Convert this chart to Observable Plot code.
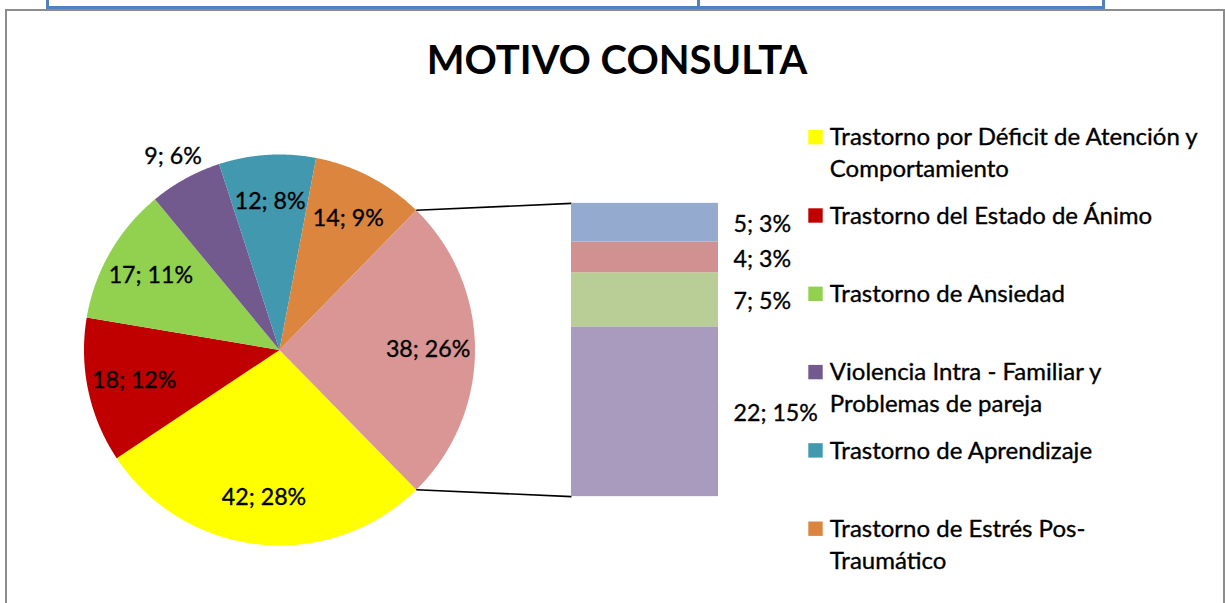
<!DOCTYPE html>
<html>
<head>
<meta charset="utf-8">
<script src="https://cdn.jsdelivr.net/npm/d3@7"></script>
<script src="https://cdn.jsdelivr.net/npm/@observablehq/plot@0.6"></script>
<style>
  html, body { margin: 0; padding: 0; background: #fff; }
  #wrap { position: relative; width: 1225px; height: 603px; overflow: hidden; font-family: Lato, "Noto Sans", sans-serif; }
  .deco { position: absolute; }
  #frame { left: 5px; top: 9px; width: 1220px; height: 700px; box-sizing: border-box; border: 2px solid #8c8c8c; border-bottom: none; }
  .blue { background: #4F81BD; }
  #title { position: relative; height: 95px; box-sizing: border-box; padding-top: 39px; padding-left: 9px; text-align: center;
           font: bold 40px/40px Lato, "Noto Sans", sans-serif; color: #000; }
  #chart svg { display: block; overflow: visible; }
</style>
</head>
<body>
<div id="wrap">
  <div class="deco" id="frame"></div>
  <div class="deco blue" style="left:46px;top:5.5px;width:1059px;height:3px"></div>
  <div class="deco blue" style="left:46px;top:0;width:3px;height:8.5px"></div>
  <div class="deco blue" style="left:697px;top:0;width:3px;height:8.5px"></div>
  <div class="deco blue" style="left:1102px;top:0;width:3px;height:8.5px"></div>
  <div id="title"></div>
  <div id="chart" style="position:relative"></div>
</div>
<script>
// ---------- data ----------
const title = "MOTIVO CONSULTA";
const categories = [
  "Trastorno por Déficit de Atención y\nComportamiento",
  "Trastorno del Estado de Ánimo",
  "Trastorno de Ansiedad",
  "Violencia Intra - Familiar y\nProblemas de pareja",
  "Trastorno de Aprendizaje",
  "Trastorno de Estrés Pos-\nTraumático"
];
const pieValues = [42, 18, 17, 9, 12, 14];
const barValues = [22, 7, 4, 5];          // "other" split, bottom to top
const pieColors = ["#FFFF00", "#C00000", "#92D050", "#725A8F", "#4198AF", "#DC853E"];
const otherColor = "#D99694";
const barColors = ["#A99BBE", "#B9CD96", "#D19190", "#94AACF"];

// ---------- derived ----------
const otherValue = d3.sum(barValues);
const total = d3.sum(pieValues) + otherValue;
const pct = v => Math.round(v / total * 100);
const otherPct = d3.sum(barValues.map(pct));

// ---------- layout ----------
const W = 1225, H = 603, TOP = 95;
const cx = 279, cy = 349.5, R = 195.5;
const barX1 = 571, barX2 = 718, barH = 0.75 * 2 * R;
const legX = 808.3, legY0 = 130, legStep = 78.3, sw = 14.4;
const FS = 23.2, LFS = 24;

document.getElementById("title").textContent = title;

const otherAngle = otherValue / total * 2 * Math.PI;
const start = Math.PI / 2 + otherAngle / 2;
const allValues = [...pieValues, otherValue];
const allColors = [...pieColors, otherColor];
const arcs = d3.pie().sort(null).startAngle(start).endAngle(start + 2 * Math.PI)(allValues);
const pt = (a, r) => [cx + r * Math.sin(a), cy - r * Math.cos(a)];

const slicePts = arcs.flatMap((a, i) => {
  const n = Math.max(2, Math.ceil((a.endAngle - a.startAngle) / 0.004));
  const pts = [{i, x: cx, y: cy}];
  for (let k = 0; k <= n; k++) {
    const [x, y] = pt(a.startAngle + (a.endAngle - a.startAngle) * k / n, R);
    pts.push({i, x, y});
  }
  return pts;
});

const pieLabels = arcs.map((a, i) => {
  const mid = (a.startAngle + a.endAngle) / 2;
  const small = (a.endAngle - a.startAngle) < 25 * Math.PI / 180;
  const [x, y] = pt(mid, small ? 1.13 * R : 0.76 * R);
  const v = allValues[i];
  const p = i < pieValues.length ? pct(v) : otherPct;
  return {x, y, text: `${v}; ${p}%`};
});

const otherArc = arcs[arcs.length - 1];
const [tx, ty] = pt(otherArc.startAngle, R);
const [bx, by] = pt(otherArc.endAngle, R);
const barTop = cy - barH / 2, barBottom = cy + barH / 2;
const links = [
  {x1: tx, y1: ty, x2: barX1, y2: barTop},
  {x1: bx, y1: by, x2: barX1, y2: barBottom}
];

const unit = barH / otherValue;
let acc = 0;
const barSegs = barValues.map((v, i) => {
  const y1 = barBottom - acc * unit;
  acc += v;
  const y2 = barBottom - acc * unit;
  return {y1, y2, color: barColors[i], text: `${v}; ${pct(v)}%`};
});

const legend = categories.map((c, i) => ({
  text: c, color: pieColors[i], top: legY0 + i * legStep
}));

const txt = {fill: "#000", stroke: "#000", strokeWidth: 0.35};

const chart = Plot.plot({
  width: W, height: H - TOP, margin: 0,
  x: {domain: [0, W], range: [0, W], axis: null},
  y: {domain: [TOP, H], range: [0, H - TOP], axis: null},
  style: {fontFamily: "Lato, 'Noto Sans', sans-serif", fontSize: FS + "px", color: "#000", background: "transparent", overflow: "visible"},
  marks: [
    Plot.line(slicePts, {x: "x", y: "y", z: "i", fill: d => allColors[d.i], stroke: "none", curve: "linear-closed"}),
    Plot.link(links, {x1: "x1", y1: "y1", x2: "x2", y2: "y2", stroke: "#000", strokeWidth: 1.6}),
    Plot.rect(barSegs, {x1: barX1, x2: barX2, y1: "y1", y2: "y2", fill: "color"}),
    Plot.text(pieLabels, {x: "x", y: "y", text: "text", fontSize: FS, lineAnchor: "middle", ...txt}),
    Plot.text(barSegs, {x: barX2 + 15, y: d => (d.y1 + d.y2) / 2 + 2, text: "text", fontSize: FS, textAnchor: "start", lineAnchor: "middle", ...txt}),
    Plot.rect(legend, {x1: legX, x2: legX + sw, y1: "top", y2: d => d.top + sw, fill: "color"}),
    Plot.text(legend, {x: legX + 21, y: d => d.top - 7.5, text: "text", fontSize: LFS, textAnchor: "start", lineAnchor: "top", lineHeight: 31.6 / LFS, ...txt})
  ]
});
document.getElementById("chart").appendChild(chart);
</script>
</body>
</html>
